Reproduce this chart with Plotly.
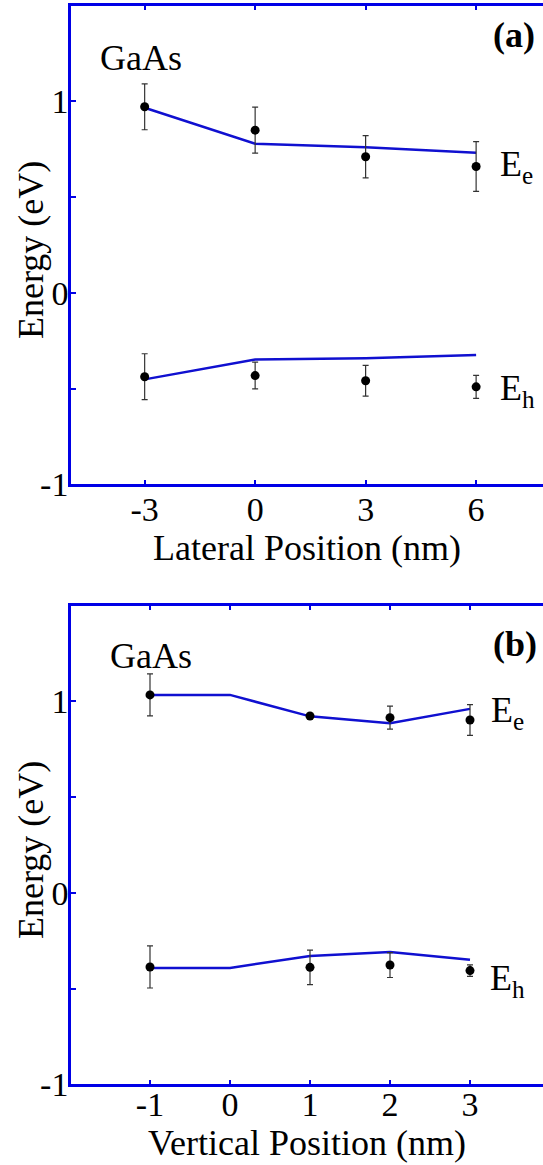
import plotly.graph_objects as go

# ---------------- data ----------------
# panel (a): lateral position
lat_x = [-3, 0, 3, 6]
lat_ee_line = [0.967, 0.779, 0.761, 0.732]
lat_ee_pts = [0.972, 0.850, 0.711, 0.660]
lat_ee_err = [0.12, 0.12, 0.11, 0.13]
lat_eh_line = [-0.452, -0.348, -0.341, -0.325]
lat_eh_pts = [-0.438, -0.432, -0.459, -0.491]
lat_eh_err = [0.12, 0.07, 0.08, 0.06]
lat_ticks = [-3, 0, 3, 6]

# panel (b): vertical position
ver_line_x = [-1, 0, 1, 2, 3]
ver_ee_line = [1.034, 1.034, 0.922, 0.886, 0.961]
ver_eh_line = [-0.392, -0.392, -0.330, -0.309, -0.349]
ver_pts_x = [-1, 1, 2, 3]
ver_ee_pts = [1.034, 0.924, 0.915, 0.903]
ver_ee_err = [0.11, 0.01, 0.06, 0.08]
ver_eh_pts = [-0.387, -0.389, -0.377, -0.406]
ver_eh_err = [0.11, 0.09, 0.065, 0.03]
ver_ticks = [-1, 0, 1, 2, 3]

y_tickvals = [-1, 0, 1]
y_ticktext = ["-1", "0", "1"]

# ---------------- style ----------------
FONT = "Liberation Serif"
AXIS_BLUE = "#0000e6"
LINE_BLUE = "#1010d0"
W, H = 543, 1165
L = 71

fig = go.Figure()

def add_panel(xl, yl, lx, ee_line, eh_line, px, ee_pts, ee_err, eh_pts, eh_err):
    for yv in (ee_line, eh_line):
        fig.add_trace(go.Scatter(x=lx, y=yv, mode="lines", xaxis=xl, yaxis=yl,
                                 line=dict(color=LINE_BLUE, width=2.5), showlegend=False))
    for yv, ev in ((ee_pts, ee_err), (eh_pts, eh_err)):
        fig.add_trace(go.Scatter(x=px, y=yv, mode="markers", xaxis=xl, yaxis=yl,
                                 marker=dict(color="black", size=9),
                                 error_y=dict(type="data", array=ev, visible=True,
                                              color="#333333", thickness=1.2, width=3),
                                 showlegend=False))

add_panel("x", "y", lat_x, lat_ee_line, lat_eh_line, lat_x,
          lat_ee_pts, lat_ee_err, lat_eh_pts, lat_eh_err)
add_panel("x2", "y2", ver_line_x, ver_ee_line, ver_eh_line, ver_pts_x,
          ver_ee_pts, ver_ee_err, ver_eh_pts, ver_eh_err)

def py(p):
    return 1 - p / H

axis_common = dict(showline=True, linecolor=AXIS_BLUE, linewidth=2.5,
                   ticks="inside", ticklen=5, tickwidth=2, tickcolor=AXIS_BLUE,
                   showgrid=False, zeroline=False, automargin=False,
                   tickfont=dict(family=FONT, size=34, color="black"))
y_minor = dict(tick0=0, dtick=0.5, ticks="inside", ticklen=5, tickwidth=2,
               tickcolor=AXIS_BLUE, showgrid=False)

fig.update_layout(
    width=W, height=H,
    margin=dict(l=L, r=0, t=0, b=0, autoexpand=False),
    paper_bgcolor="white", plot_bgcolor="white",
    xaxis=dict(domain=[0, 1], anchor="y", range=[-5, 7.816], tickvals=lat_ticks,
               ticktext=[str(v) for v in lat_ticks], mirror="ticks",
               ticklabelstandoff=-7, **axis_common),
    yaxis=dict(domain=[py(484.3), py(5.7)], anchor="x", range=[-1, 1.5],
               tickvals=y_tickvals, ticktext=y_ticktext, ticklabelstandoff=-7,
               minor=y_minor, **axis_common),
    xaxis2=dict(domain=[0, 1], anchor="y2", range=[-1.9875, 3.9125], tickvals=ver_ticks,
                ticktext=[str(v) for v in ver_ticks], mirror="ticks",
                ticklabelstandoff=-12, **axis_common),
    yaxis2=dict(domain=[py(1084.3), py(605.7)], anchor="x2", range=[-1, 1.5],
                tickvals=y_tickvals, ticktext=y_ticktext, ticklabelstandoff=-7,
                minor=y_minor, **axis_common),
)

TF = dict(family=FONT, size=36, color="black")
ann = []
def text(x, y, t, xr, yr, **kw):
    d = dict(x=x, y=y, text=t, xref=xr, yref=yr, showarrow=False, font=TF,
             xanchor="center", yanchor="middle")
    d.update(kw)
    ann.append(d)

# panel a texts
text(-3.09, 1.227, "GaAs", "x", "y")
text(7.03, 1.347, "<b>(a)</b>", "x", "y")
text(6.59, 0.66, "E<sub>e</sub>", "x", "y", xanchor="left")
text(6.59, -0.51, "E<sub>h</sub>", "x", "y", xanchor="left")
# panel b texts
text(-0.99, 1.238, "GaAs", "x2", "y2")
text(3.56, 1.30, "<b>(b)</b>", "x2", "y2")
text(3.24, 0.94, "E<sub>e</sub>", "x2", "y2", xanchor="left")
text(3.225, -0.46, "E<sub>h</sub>", "x2", "y2", xanchor="left")
# axis titles
text(0.5, py(548), "Lateral Position (nm)", "paper", "paper")
text(0.5, py(1143), "Vertical Position (nm)", "paper", "paper")
text((31 - L) / (W - L), py(250), "Energy (eV)", "paper", "paper", textangle=-90)
text((31 - L) / (W - L), py(850), "Energy (eV)", "paper", "paper", textangle=-90)

fig.update_layout(annotations=ann)
fig.write_html("out.html")
